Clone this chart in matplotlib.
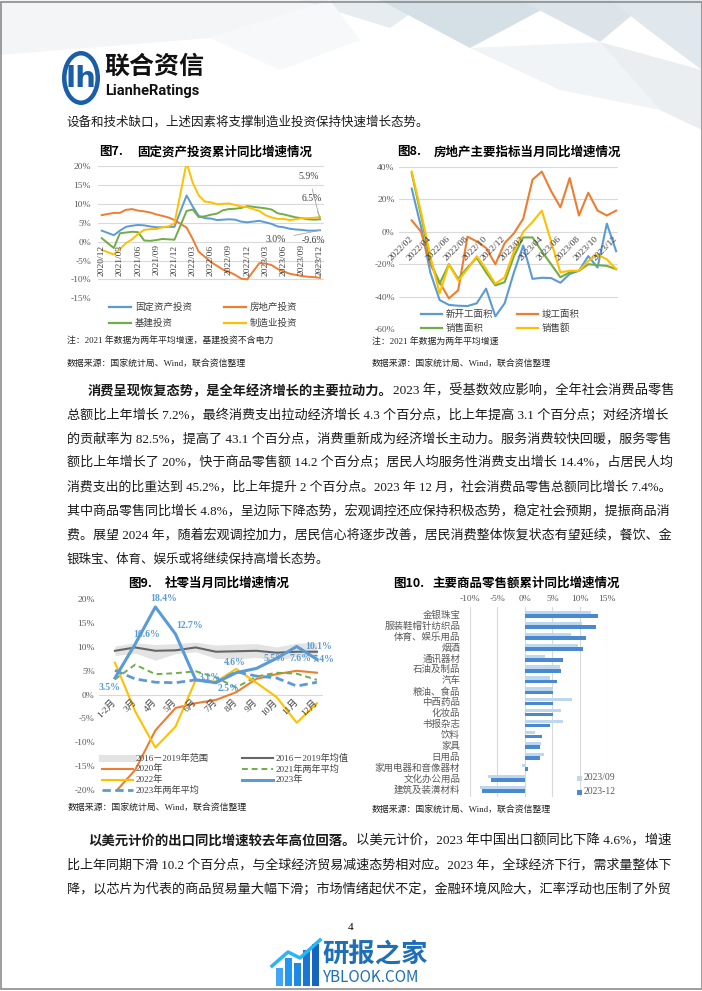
import matplotlib
matplotlib.use('Agg')
import matplotlib.pyplot as plt
from matplotlib.patches import Polygon, Rectangle, Ellipse
from matplotlib.lines import Line2D

W, H = 702, 991
SERIF = ['Liberation Serif', 'Noto Sans CJK SC']
CJK = ['Noto Sans CJK SC', 'DejaVu Sans']
plt.rcParams['font.family'] = SERIF
plt.rcParams['axes.unicode_minus'] = False

BLUE, ORANGE, GREEN, YELLOW = '#5B9BD5', '#ED7D31', '#70AD47', '#FFC000'
GRID, TICK = '#D9D9D9', '#595959'

# ---------- 图7 固定资产投资累计同比 ----------
inv_months = ['2020/12'] + [f'{y}/{m:02d}' for y in (2021, 2022, 2023) for m in range(2, 13)]
inv_fixed = [2.9, 1.7, 2.9, 3.9, 4.2, 4.4, 4.3, 4.0, 3.8, 3.8, 3.9, 3.9,
             12.2, 9.3, 6.8, 6.2, 6.1, 5.7, 5.8, 5.9, 5.8, 5.3, 5.1,
             5.5, 5.1, 4.7, 4.0, 3.8, 3.4, 3.2, 3.1, 2.9, 2.9, 3.0]
inv_estate = [7.0, 7.6, 7.6, 8.4, 8.6, 8.2, 8.0, 7.7, 7.2, 6.8, 6.4, 5.7,
              3.7, 0.7, -2.7, -4.0, -5.4, -6.4, -7.4, -8.0, -8.8, -9.8, -10.0,
              -5.7, -5.8, -6.2, -7.2, -7.9, -8.5, -8.8, -9.1, -9.3, -9.4, -9.6]
inv_infra = [0.9, -1.7, 2.2, 2.4, 2.6, 2.5, 0.3, 0.2, 0.4, 0.7, 0.6, 0.5,
             8.1, 8.5, 6.5, 6.7, 7.1, 7.4, 8.3, 8.6, 8.7, 8.9, 9.4,
             9.0, 8.8, 8.5, 7.5, 7.2, 6.8, 6.4, 6.2, 5.9, 5.8, 5.9]
inv_mfg = [-2.2, -3.4, -2.0, -0.4, 0.6, 2.0, 3.1, 3.3, 3.3, 3.8, 4.0, 4.8,
           20.9, 15.6, 12.2, 10.6, 10.4, 9.9, 10.0, 10.1, 9.7, 9.3, 9.1,
           8.1, 7.0, 6.4, 6.0, 6.0, 5.7, 5.9, 6.2, 6.2, 6.3, 6.5]
inv_tick_labels = ['2020/12', '2021/03', '2021/06', '2021/09', '2021/12', '2022/03', '2022/06',
                   '2022/09', '2022/12', '2023/03', '2023/06', '2023/09', '2023/12']

# ---------- 图8 房地产当月同比 ----------
re_months = [f'2022/{m:02d}' for m in range(2, 13)] + [f'2023/{m:02d}' for m in range(1, 13)]
re_new_start = [26.5, 3, -25, -42, -45, -45.5, -45.7, -44, -35, -52, -44, -25,
                -8.5, -29, -28.3, -28.5, -31.4, -26, -24, -15, -22, 5, -12]
re_completed = [7, 0, -20, -31, -41, -36, -3, -6, -10, -20, -7, -1,
                8, 32, 37, 25, 15, 33, 10, 24, 13, 10, 13]
re_sales_area = [36, 10, -18, -32, -20, -29, -22, -16, -25, -33, -31, -15,
                 -3.5, -3.5, -12, -20, -28, -25, -24, -20, -20.5, -21, -23]
re_sales_value = [37, 12, -15, -38, -20, -30, -23, -15, -23, -32, -28, -12,
                  0, 6, 13, -6, -25, -24, -24, -18, -14, -17, -23]

# ---------- 图9 社零当月同比 ----------
rs_months = ['1-2月', '3月', '4月', '5月', '6月', '7月', '8月', '9月', '10月', '11月', '12月']
rs_range_low = [8.2, 8.7, 7.2, 8.6, 9.0, 7.6, 7.5, 7.8, 7.2, 8.0, 8.0]
rs_range_high = [10.2, 10.9, 10.5, 10.7, 11.0, 10.4, 10.6, 10.7, 10.0, 10.8, 10.9]
rs_mean = [9.2, 9.9, 9.2, 9.3, 9.9, 9.0, 9.1, 9.2, 8.8, 9.0, 9.0]
rs_2020 = [-20.5, -15.8, -7.5, -2.8, -1.8, -1.1, 0.5, 3.3, 4.3, 5.0, 4.6]
rs_2021_avg = [3.2, 6.3, 4.3, 4.5, 4.9, 3.6, 1.5, 3.8, 4.6, 4.4, 3.1]
rs_2022 = [6.7, -3.5, -11.1, -6.7, 3.1, 2.7, 5.4, 2.5, -0.5, -5.9, -1.8]
rs_2023 = [3.5, 10.6, 18.4, 12.7, 3.1, 2.5, 4.6, 5.5, 7.6, 10.1, 7.4]
rs_2023_avg = [5.1, 3.3, 2.6, 2.5, 3.1, 2.6, 4.8, 3.9, 3.5, 1.8, 2.6]

# ---------- 图10 主要商品零售额累计同比 ----------
goods = ['金银珠宝', '服装鞋帽针纺织品', '体育、娱乐用品', '烟酒', '通讯器材', '石油及制品', '汽车',
         '粮油、食品', '中西药品', '化妆品', '书报杂志', '饮料', '家具', '日用品',
         '家用电器和音像器材', '文化办公用品', '建筑及装潢材料']
goods_sep = [12.0, 10.4, 8.3, 9.6, 3.6, 6.3, 4.5, 5.1, 8.6, 6.6, 7.0, 1.8, 3.0, 3.4, -0.6, -6.8, -8.1]
goods_dec = [13.3, 12.9, 11.2, 10.6, 7.0, 6.6, 5.9, 5.2, 5.1, 5.1, 4.6, 3.2, 2.8, 2.7, 0.5, -6.1, -7.8]

fig = plt.figure(figsize=(W / 100, H / 100), dpi=100)
renderer = fig.canvas.get_renderer()


def box(l, t, r, b):
    return fig.add_axes([l / W, 1 - b / H, (r - l) / W, (b - t) / H])


def txt(x, y, s, **kw):
    kw.setdefault('va', 'center')
    return fig.text(x / W, 1 - y / H, s, **kw)


def key_line(x0, x1, y, **kw):
    fig.add_artist(Line2D([x0 / W, x1 / W], [1 - y / H, 1 - y / H], transform=fig.transFigure, **kw))


def para_line(x, y, runs, size=9.0, right=None):
    arts = [txt(x, y, s, fontsize=size, weight=w, color='#1a1a1a') for s, w in runs]

    def layout():
        cx = x
        for a in arts:
            a.set_x(cx / W)
            cx += a.get_window_extent(renderer).width
        return cx
    end = layout()
    if right is not None:
        k = (right - x) / (end - x)
        for a in arts:
            a.set_fontsize(size * k)
        layout()


def clean(ax):
    for s in ax.spines.values():
        s.set_visible(False)
    ax.tick_params(length=0, labelsize=6.8, labelcolor=TICK)
    ax.set_xticks([])


# ---------- header decoration ----------
deco = [
    ([(0, 0), (330, 0), (210, 38), (0, 55)], '#F3F5F7'),
    ([(300, 0), (430, 0), (390, 28)], '#E6ECEF'),
    ([(380, 0), (560, 0), (470, 48)], '#D5DFE6'),
    ([(520, 0), (650, 0), (600, 42)], '#DCE4EA'),
    ([(610, 0), (702, 0), (702, 70), (655, 35)], '#E1E8ED'),
    ([(470, 48), (600, 42), (660, 110), (560, 90)], '#F1F4F6'),
    ([(600, 42), (702, 70), (702, 130), (660, 110)], '#EAEEF1'),
    ([(210, 38), (330, 0), (360, 40), (280, 70)], '#F7F8F9'),
]
for pts, c in deco:
    fig.add_artist(Polygon([(px / W, 1 - py / H) for px, py in pts], closed=True,
                           transform=fig.transFigure, facecolor=c, edgecolor='none', zorder=0))
fig.add_artist(Rectangle((0.5 / W, 2 / H), 701 / W, 987.5 / H, transform=fig.transFigure,
                         facecolor='none', edgecolor='#8C8C8C', lw=1.2, zorder=5))

# logo
fig.add_artist(Ellipse((81 / W, 1 - 78 / H), 38 / W, 54 / H, transform=fig.transFigure,
                       facecolor='#1B5EA8', edgecolor='none'))
fig.add_artist(Ellipse((81 / W, 1 - 78 / H), 29 / W, 45 / H, transform=fig.transFigure,
                       facecolor='white', edgecolor='none'))
txt(81, 79, 'lh', fontsize=21, weight='bold', family=['DejaVu Sans'], color='#1B5EA8', ha='center')
txt(104, 67, '联合资信', fontsize=18, weight='bold', family=CJK, color='#111111')
txt(105, 91, 'LianheRatings', fontsize=10.5, weight='bold', family=['Roboto', 'DejaVu Sans'], color='#111111')

para_line(66, 122, [('设备和技术缺口，上述因素将支撑制造业投资保持快速增长态势。', 'normal')])

# ---------- 图7 ----------
txt(99, 152, '图7.', fontsize=9, family=CJK, weight='bold')
txt(137, 152, '固定资产投资累计同比增速情况', fontsize=9, family=CJK, weight='bold')
ax7 = box(98, 166, 324, 298.3)
clean(ax7)
pos7 = [(int(m[:4]) - 2020) * 12 + int(m[5:]) - 12 for m in inv_months]
for ser, c in [(inv_fixed, BLUE), (inv_estate, ORANGE), (inv_infra, GREEN), (inv_mfg, YELLOW)]:
    ax7.plot(pos7, ser, color=c, lw=1.4, solid_joinstyle='round')
ax7.set_xlim(-0.61, 36.66)
ax7.set_ylim(-15, 20)
ax7.set_yticks(range(-15, 21, 5))
ax7.set_yticklabels([f'{v}%' for v in range(-15, 21, 5)])
ax7.tick_params(axis='y', pad=5)
ax7.grid(axis='y', color=GRID, lw=0.8)
ax7.set_axisbelow(True)
for lab in inv_tick_labels:
    p = (int(lab[:4]) - 2020) * 12 + int(lab[5:]) - 12
    ax7.annotate(lab, (p, 0), xytext=(0, -2), textcoords='offset points', rotation=90,
                 ha='center', va='top', fontsize=6.8, color='#404040')
end = pos7[-1]
for val, off in [(inv_infra[-1], (-8, 31)), (inv_mfg[-1], (-6, 13)),
                 (inv_fixed[-1], (-32, -6.5)), (inv_estate[-1], (-5, 27))]:
    ax7.annotate(f'{val:.1f}%', (end, val), xytext=off, textcoords='offset points',
                 ha='center', va='center', fontsize=7, color='#404040',
                 arrowprops=dict(arrowstyle='-', color='#A6A6A6', lw=0.6, shrinkA=4, shrinkB=0))
for x0, y, c, lab in [(109, 307, BLUE, '固定资产投资'), (224, 307, ORANGE, '房地产投资'),
                      (109, 323, GREEN, '基建投资'), (224, 323, YELLOW, '制造业投资')]:
    key_line(x0, x0 + 22, y, color=c, lw=1.6)
    txt(x0 + 26, y, lab, fontsize=6.8, color='#404040')
txt(67, 341, '注：2021 年数据为两年平均增速，基建投资不含电力', fontsize=6.4, color='#222222')
txt(67, 363, '数据来源：国家统计局、Wind，联合资信整理', fontsize=6.4, color='#222222')

# ---------- 图8 ----------
txt(397, 152, '图8.', fontsize=9, family=CJK, weight='bold')
txt(434, 152, '房地产主要指标当月同比增速情况', fontsize=9, family=CJK, weight='bold')
ax8 = box(399, 166.7, 618, 329.3)
clean(ax8)
idx8 = list(range(len(re_months)))
for ser, c in [(re_new_start, BLUE), (re_completed, ORANGE), (re_sales_area, GREEN), (re_sales_value, YELLOW)]:
    ax8.plot(idx8, ser, color=c, lw=1.5, solid_joinstyle='round')
ax8.set_xlim(-1.37, 22.2)
ax8.set_ylim(-60, 40)
ax8.set_yticks(range(-60, 41, 20))
ax8.set_yticklabels([f'{v}%' for v in range(-60, 41, 20)])
ax8.tick_params(axis='y', pad=3)
ax8.grid(axis='y', color=GRID, lw=0.8)
ax8.set_axisbelow(True)
for i in idx8[::2]:
    ax8.annotate(re_months[i], (i, 0), xytext=(2, -2), textcoords='offset points', rotation=45,
                 ha='right', va='top', fontsize=6.8, color='#404040')
for x0, y, c, lab in [(421, 314, BLUE, '新开工面积'), (517, 314, ORANGE, '竣工面积'),
                      (421, 328, GREEN, '销售面积'), (517, 328, YELLOW, '销售额')]:
    key_line(x0, x0 + 21, y, color=c, lw=1.6)
    txt(x0 + 25, y, lab, fontsize=6.8, color='#404040')
txt(372, 341, '注：2021 年数据为两年平均增速', fontsize=6.4, color='#222222')
txt(372, 363, '数据来源：国家统计局、Wind，联合资信整理', fontsize=6.4, color='#222222')

# ---------- body paragraph ----------
body = [
    (88, [('消费呈现恢复态势，是全年经济增长的主要拉动力。', 'bold'), ('2023 年，受基数效应影响，全年社会消费品零售', 'normal')], True),
    (67, [('总额比上年增长 7.2%，最终消费支出拉动经济增长 4.3 个百分点，比上年提高 3.1 个百分点；对经济增长', 'normal')], True),
    (67, [('的贡献率为 82.5%，提高了 43.1 个百分点，消费重新成为经济增长主动力。服务消费较快回暖，服务零售', 'normal')], True),
    (67, [('额比上年增长了 20%，快于商品零售额 14.2 个百分点；居民人均服务性消费支出增长 14.4%，占居民人均', 'normal')], True),
    (67, [('消费支出的比重达到 45.2%，比上年提升 2 个百分点。2023 年 12 月，社会消费品零售总额同比增长 7.4%。', 'normal')], True),
    (67, [('其中商品零售同比增长 4.8%，呈边际下降态势，宏观调控还应保持积极态势，稳定社会预期，提振商品消', 'normal')], True),
    (67, [('费。展望 2024 年，随着宏观调控加力，居民信心将逐步改善，居民消费整体恢复状态有望延续，餐饮、金', 'normal')], True),
    (67, [('银珠宝、体育、娱乐或将继续保持高增长态势。', 'normal')], False),
]
for k, (x, runs, just) in enumerate(body):
    para_line(x, 391 + 24 * k, runs, right=672 if just else None)

# ---------- 图9 ----------
txt(128, 583, '图9.', fontsize=9, family=CJK, weight='bold')
txt(165, 583, '社零当月同比增速情况', fontsize=9, family=CJK, weight='bold')
ax9 = box(99, 599.3, 323, 790)
clean(ax9)
idx9 = list(range(len(rs_months)))
ax9.axhline(0, color=GRID, lw=0.8, zorder=0)
ax9.fill_between(idx9, rs_range_low, rs_range_high, color='#E3E3E3', lw=0, zorder=1)
ax9.plot(idx9, rs_mean, color='#666666', lw=1.5, zorder=2)
ax9.plot(idx9, rs_2020, color=ORANGE, lw=1.5, zorder=3)
ax9.plot(idx9, rs_2021_avg, color=GREEN, lw=1.4, ls=(0, (3, 2)), zorder=3)
ax9.plot(idx9, rs_2022, color=YELLOW, lw=1.5, zorder=3)
ax9.plot(idx9, rs_2023_avg, color=BLUE, lw=2.0, ls=(0, (3, 1.6)), zorder=3)
ax9.plot(idx9, rs_2023, color=BLUE, lw=2.2, zorder=4)
ax9.set_xlim(-0.79, 10.3)
ax9.set_ylim(-20, 20)
ax9.set_yticks(range(-20, 21, 5))
ax9.set_yticklabels([f'{v}%' for v in range(-20, 21, 5)])
ax9.tick_params(axis='y', pad=3)
for i, lab in enumerate(rs_months):
    ax9.annotate(lab, (i, 0), xytext=(2, -2), textcoords='offset points', rotation=45,
                 ha='right', va='top', fontsize=6.8, color='#404040')
lab_off = [(-4, -7), (8, 7), (6, 6), (10, 6), (10, 2), (9, -4), (-1, 7), (13, 7), (17.5, 0), (16, 0), (4.5, 0)]
for i, (v, off) in enumerate(zip(rs_2023, lab_off)):
    ax9.annotate(f'{v}%', (i, v), xytext=off, textcoords='offset points', ha='center', va='center',
                 fontsize=7.0, weight='bold', color=BLUE, zorder=6)
leg9 = [
    (102, 758, dict(color='#E3E3E3', lw=5), '2016－2019年范围'),
    (242, 758, dict(color='#666666', lw=1.5), '2016－2019年均值'),
    (102, 769, dict(color=ORANGE, lw=1.5), '2020年'),
    (242, 769, dict(color=GREEN, lw=1.4, ls=(0, (3, 2))), '2021年两年平均'),
    (102, 780, dict(color=YELLOW, lw=1.5), '2022年'),
    (242, 780, dict(color=BLUE, lw=2.2), '2023年'),
    (102, 790, dict(color=BLUE, lw=2.0, ls=(0, (3, 1.6))), '2023年两年平均'),
]
for x0, y, st, lab in leg9:
    key_line(x0, x0 + 31, y, **st)
    txt(x0 + 34, y, lab, fontsize=6.6, color='#404040')
txt(68, 807, '数据来源：国家统计局、Wind，联合资信整理', fontsize=6.4, color='#222222')

# ---------- 图10 ----------
txt(393, 583, '图10.', fontsize=9, family=CJK, weight='bold')
txt(432, 583, '主要商品零售额累计同比增速情况', fontsize=9, family=CJK, weight='bold')
ax10 = box(470, 607, 607.3, 797)
for s in ax10.spines.values():
    s.set_visible(False)
idx10 = list(range(len(goods)))
ax10.barh([i - 0.17 for i in idx10], goods_sep, height=0.3, color='#BDD7EE', zorder=2)
ax10.barh([i + 0.17 for i in idx10], goods_dec, height=0.32, color='#4A89CF', zorder=2)
ax10.set_xlim(-10, 15)
ax10.set_ylim(16.73, -0.67)
ax10.set_xticks(range(-10, 16, 5))
ax10.set_xticklabels([f'{v}%' for v in range(-10, 16, 5)])
ax10.xaxis.tick_top()
ax10.set_yticks(idx10)
ax10.set_yticklabels(goods)
ax10.tick_params(length=0, labelsize=6.8, labelcolor=TICK)
ax10.tick_params(axis='y', pad=7)
ax10.tick_params(axis='x', pad=3)
ax10.grid(axis='x', color=GRID, lw=0.8, zorder=0)
ax10.set_axisbelow(True)
for y, c, lab in [(778, '#BDD7EE', '2023/09'), (792, '#4A89CF', '2023-12')]:
    fig.add_artist(Rectangle((577 / W, 1 - (y + 2.5) / H), 5 / W, 5 / H, transform=fig.transFigure,
                             facecolor=c, edgecolor='none'))
    txt(584, y, lab, fontsize=7, color=TICK)
txt(372, 809, '数据来源：国家统计局、Wind，联合资信整理', fontsize=6.4, color='#222222')

# ---------- bottom paragraph ----------
bottom = [
    (88, [('以美元计价的出口同比增速较去年高位回落。', 'bold'), ('以美元计价，2023 年中国出口额同比下降 4.6%，增速', 'normal')]),
    (67, [('比上年同期下滑 10.2 个百分点，与全球经济贸易减速态势相对应。2023 年，全球经济下行，需求量整体下', 'normal')]),
    (67, [('降，以芯片为代表的商品贸易量大幅下滑；市场情绪起伏不定，金融环境风险大，汇率浮动也压制了外贸', 'normal')]),
]
for k, (x, runs) in enumerate(bottom):
    para_line(x, 841 + 24 * k, runs, right=672)
txt(351, 927, '4', fontsize=8, ha='center')

# watermark
for bx, bt, c in [(276, 968, '#42A5F5'), (285, 958, '#2196F3'), (294, 963, '#1E88E5'), (303, 950, '#1976D2'), (312, 944, '#1565C0')]:
    fig.add_artist(Rectangle((bx / W, 1 - 986 / H), 6.5 / W, (986 - bt) / H, transform=fig.transFigure,
                             facecolor=c, edgecolor='none'))
fig.add_artist(Line2D([272 / W, 288 / W, 300 / W, 320 / W], [1 - 966 / H, 1 - 952 / H, 1 - 958 / H, 1 - 940 / H],
                      transform=fig.transFigure, color='#29B6F6', lw=2.5))
txt(322, 955, '研报之家', fontsize=19, family=CJK, weight='bold', color='#1F6FB6')
txt(323, 977, 'YBLOOK.COM', fontsize=11, family=CJK, color='#1F6FB6')

fig.savefig('out.png', dpi=100)
